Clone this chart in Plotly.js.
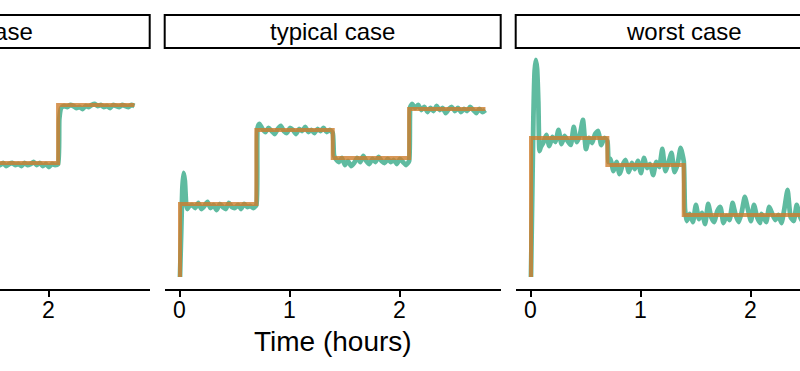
<!DOCTYPE html>
<html><head><meta charset="utf-8">
<script src="https://cdn.plot.ly/plotly-3.0.1.min.js"></script>
<style>
html,body{margin:0;padding:0;overflow:hidden;width:800px;height:371px;background:#fff}
#wrap{position:absolute;left:-200px;top:0;width:1100px;height:371px}
</style>
</head><body><div id="wrap"></div>
<script>
// ---- data (time in seconds, response in arbitrary units) ----
const panelTitles = ["best case", "typical case", "worst case"];
const tickVals = [0, 1, 2];
const tickText = ["0", "1", "2"];
const xTitle = "Time (hours)";

const timeSec = [0,40,80,120,160,200,240,280,320,
  400,500,600,700,800,900,1000,1100,1200,1300,1400,1500,1600,1700,1800,1900,2000,2100,2200,2300,2400,2500,
  2540,
  2600,2700,2800,2900,3000,3100,3200,3300,3400,3500,3600,3700,3800,3900,4000,4100,4200,4300,4400,4500,4600,4700,4800,4900,5000,
  5040,
  5100,5200,5300,5400,5500,5600,5700,5800,5900,6000,6100,6200,6300,6400,6500,6600,6700,6800,6900,7000,7100,7200,7300,7400,7500,
  7540,
  7600,7700,7800,7900,8000,8100,8200,8300,8400,8500,8600,8700,8800,8900,9000,9100,9200,9300,9400,9500,9600,9700,9800,9900,10000];

const typicalMeasured = [0,4.5,9.0,10.4,9.6,7.4,6.8,7.0,7.1,
  7.2,6.9,7.4,6.8,7.1,7.5,6.9,7.2,6.7,7.3,7.0,6.8,7.4,7.0,6.9,7.2,6.8,7.3,7.0,7.1,6.9,7.2,
  14.9,
  15.3,14.8,14.5,14.9,14.6,14.3,14.8,15.1,14.6,14.4,14.9,14.7,14.3,14.8,14.6,15.0,14.5,14.7,14.4,14.8,14.6,14.9,14.5,14.7,14.4,
  12.2,
  11.8,11.5,11.9,11.2,11.6,11.1,11.4,11.9,11.5,12.1,11.6,11.3,11.8,11.5,12.0,11.6,11.4,11.8,11.5,11.7,11.3,11.8,11.5,11.2,11.6,
  17.0,
  17.3,16.9,17.2,16.7,17.0,16.5,16.9,16.6,17.1,16.7,16.9,16.4,16.8,17.0,16.6,16.9,16.5,16.8,16.6,17.0,16.7,16.4,16.8,16.5,16.7];

const worstMeasured = [0,8.0,16.0,20.6,21.7,20.8,17.5,12.6,13.0,
  13.4,14.2,13.1,14.0,13.5,14.7,13.3,14.1,13.6,13.2,15.0,13.5,14.2,15.7,12.8,13.9,13.4,14.3,14.6,13.2,13.9,13.6,
  11.5,
  11.8,10.6,11.5,10.3,11.2,11.7,10.5,11.4,10.8,11.6,10.4,11.9,10.9,11.3,10.2,11.5,11.0,12.8,10.6,11.4,12.4,10.5,11.3,12.9,11.6,
  6.8,
  5.6,6.3,5.5,7.2,5.8,6.4,5.3,7.3,6.0,5.5,6.6,7.0,5.4,6.1,5.7,7.4,6.2,5.5,6.5,8.0,6.8,5.6,7.2,6.0,5.4,
  6.3,
  6.1,5.5,7.0,6.3,5.7,6.2,5.4,6.9,8.7,6.0,5.6,7.2,6.1,5.5,6.4,5.8,6.6,5.3,6.2,6.8,5.7,6.3,5.6,6.5,6.0];

const bestTimeSec = [5500,5600,5700,5800,5900,6000,6100,6200,6300,6400,6500,6600,6700,6800,6900,7000,7100,7200,7300,7400,7500,
  7540,
  7600,7700,7800,7900,8000,8100,8200,8300,8400,8500,8600,8700,8800,8900,9000,9100,9200,9300,9400,9500,9600,9700,9800,9900,10000];
const bestMeasured = [11.3,11.2,11.4,11.1,11.3,11.4,11.2,11.3,11.1,11.4,11.2,11.3,11.5,11.2,11.4,11.1,11.3,11.0,11.3,11.2,11.3,
  15.8,
  16.9,17.1,17.0,17.2,17.1,16.9,17.0,16.8,17.1,17.0,17.2,17.3,17.1,17.2,17.0,17.1,16.9,17.2,17.1,17.0,17.2,17.1,17.0,17.2,17.1];

const bestSetTime = [5500,7500,10000];
const bestSetLevel = [11.4,17.2,17.2];
const typicalSetTime = [0,0,2500,5000,7500,10000];
const typicalSetLevel = [0,7.3,14.7,11.9,16.8,16.8];
const worstSetTime = [0,0,2500,5000,10000];
const worstSetLevel = [0,13.9,11.2,6.2,6.2];

// ---- layout helpers ----
const W = 1100, H = 371, OFF = -200;
const panelLeftPx = [-186.3, 164.7, 515.7];   // page px
const panelWidthPx = 336;
const plotTopPx = 49, plotBotPx = 289;
const stripTopPx = 15, stripBotPx = 48;
const xr = [-0.139, 2.9165];
const yr = [-1.2, 22.8];
const FONT = "Liberation Sans, Arial, sans-serif";

const toH = a => a.map(s => s / 3600);
const px2paperX = p => (p - OFF) / W;
const px2paperY = p => (H - p) / H;

const measuredColor = "rgba(27,158,119,0.7)";
const setColor = "rgba(205,125,45,0.8)";

const panels = [
  {mt: bestTimeSec, mv: bestMeasured, st: bestSetTime, sv: bestSetLevel},
  {mt: timeSec, mv: typicalMeasured, st: typicalSetTime, sv: typicalSetLevel},
  {mt: timeSec, mv: worstMeasured, st: worstSetTime, sv: worstSetLevel}
];

const traces = [];
const layout = {
  width: W, height: H,
  margin: {l:0, r:0, t:0, b:0},
  paper_bgcolor: "#fff", plot_bgcolor: "#fff",
  showlegend: false,
  font: {family: FONT, color: "#000"},
  shapes: [], annotations: []
};

panels.forEach((p, i) => {
  const n = i === 0 ? "" : String(i + 1);
  const xa = "x" + n, ya = "y" + n;
  traces.push({x: toH(p.mt), y: p.mv, xaxis: xa, yaxis: ya, type: "scatter", mode: "lines",
    line: {color: measuredColor, width: 4.8, shape: "spline", smoothing: 0.5}, hoverinfo: "skip"});
  traces.push({x: toH(p.st), y: p.sv, xaxis: xa, yaxis: ya, type: "scatter", mode: "lines",
    line: {color: setColor, width: 4, shape: "hv"}, hoverinfo: "skip"});
  const d0 = px2paperX(panelLeftPx[i]), d1 = px2paperX(panelLeftPx[i] + panelWidthPx);
  layout["xaxis" + n] = {
    domain: [d0, d1], range: xr, anchor: ya,
    showgrid: false, zeroline: false,
    showline: true, linecolor: "#000", linewidth: 2,
    ticks: "outside", ticklen: 6, tickwidth: 2, tickcolor: "#000",
    tickvals: tickVals, ticktext: tickText, showticklabels: false
  };
  layout["yaxis" + n] = {
    domain: [px2paperY(plotBotPx), px2paperY(plotTopPx)], range: yr, anchor: xa,
    visible: false
  };
  // tick labels placed per axis value
  tickVals.forEach((tv, k) => {
    layout.annotations.push({xref: xa, yref: "paper", x: tv, y: px2paperY(310),
      text: tickText[k], showarrow: false, xanchor: "center", yanchor: "middle",
      font: {size: 23, color: "#000", family: FONT}});
  });
  layout.shapes.push({type: "rect", xref: "paper", yref: "paper",
    x0: d0, x1: d1, y0: px2paperY(stripBotPx), y1: px2paperY(stripTopPx),
    line: {color: "#000", width: 2}, fillcolor: "#fff"});
  layout.annotations.push({xref: "paper", yref: "paper", x: (d0 + d1) / 2, y: px2paperY((stripTopPx + stripBotPx) / 2),
    text: panelTitles[i], showarrow: false, xanchor: "center", yanchor: "middle",
    font: {size: 24, color: "#000", family: FONT}});
  if (i === 1) {
    layout.annotations.push({xref: "paper", yref: "paper", x: (d0 + d1) / 2, y: px2paperY(341),
      text: xTitle, showarrow: false, xanchor: "center", yanchor: "middle",
      font: {size: 28, color: "#000", family: FONT}});
  }
});

Plotly.newPlot("wrap", traces, layout, {staticPlot: true, displayModeBar: false});
</script>
</body></html>
